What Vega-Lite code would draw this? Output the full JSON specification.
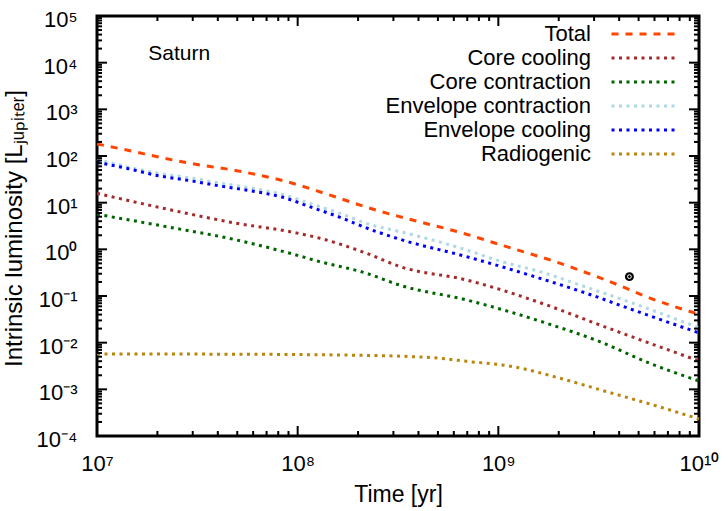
{
  "$schema": "https://vega.github.io/schema/vega-lite/v6.json",
  "width": 602,
  "height": 420,
  "autosize": "none",
  "padding": {"left": 97, "top": 16, "right": 29, "bottom": 75},
  "background": "white",
  "config": {
    "font": "Liberation Sans",
    "view": {"stroke": "black", "strokeWidth": 3},
    "axis": {"domain": false, "grid": false, "ticks": false, "labelColor": "black", "titleColor": "black", "titleFontWeight": "normal", "labelFont": "Liberation Sans", "titleFont": "Liberation Sans"}
  },
  "datasets": {
    "xmajor": [{"v": 1e7}, {"v": 1e8}, {"v": 1e9}, {"v": 1e10}],
    "xminor": [{"v": 2e7}, {"v": 3e7}, {"v": 4e7}, {"v": 5e7}, {"v": 6e7}, {"v": 7e7}, {"v": 8e7}, {"v": 9e7},
               {"v": 2e8}, {"v": 3e8}, {"v": 4e8}, {"v": 5e8}, {"v": 6e8}, {"v": 7e8}, {"v": 8e8}, {"v": 9e8},
               {"v": 2e9}, {"v": 3e9}, {"v": 4e9}, {"v": 5e9}, {"v": 6e9}, {"v": 7e9}, {"v": 8e9}, {"v": 9e9}],
    "ymajor": [{"v": 1e-4}, {"v": 1e-3}, {"v": 1e-2}, {"v": 1e-1}, {"v": 1}, {"v": 10}, {"v": 100}, {"v": 1000}, {"v": 10000}, {"v": 100000}],
    "yminor": [{"v": 2e-4}, {"v": 3e-4}, {"v": 4e-4}, {"v": 5e-4}, {"v": 6e-4}, {"v": 7e-4}, {"v": 8e-4}, {"v": 9e-4},
               {"v": 2e-3}, {"v": 3e-3}, {"v": 4e-3}, {"v": 5e-3}, {"v": 6e-3}, {"v": 7e-3}, {"v": 8e-3}, {"v": 9e-3},
               {"v": 2e-2}, {"v": 3e-2}, {"v": 4e-2}, {"v": 5e-2}, {"v": 6e-2}, {"v": 7e-2}, {"v": 8e-2}, {"v": 9e-2},
               {"v": 0.2}, {"v": 0.3}, {"v": 0.4}, {"v": 0.5}, {"v": 0.6}, {"v": 0.7}, {"v": 0.8}, {"v": 0.9},
               {"v": 2}, {"v": 3}, {"v": 4}, {"v": 5}, {"v": 6}, {"v": 7}, {"v": 8}, {"v": 9},
               {"v": 20}, {"v": 30}, {"v": 40}, {"v": 50}, {"v": 60}, {"v": 70}, {"v": 80}, {"v": 90},
               {"v": 200}, {"v": 300}, {"v": 400}, {"v": 500}, {"v": 600}, {"v": 700}, {"v": 800}, {"v": 900},
               {"v": 2000}, {"v": 3000}, {"v": 4000}, {"v": 5000}, {"v": 6000}, {"v": 7000}, {"v": 8000}, {"v": 9000},
               {"v": 20000}, {"v": 30000}, {"v": 40000}, {"v": 50000}, {"v": 60000}, {"v": 70000}, {"v": 80000}, {"v": 90000}],
    "curves": [
    {"series": "Total", "t": 1e7, "L": 180.7},
    {"series": "Total", "t": 1.459e7, "L": 130.0},
    {"series": "Total", "t": 2.061e7, "L": 93.8},
    {"series": "Total", "t": 2.904e7, "L": 69.8},
    {"series": "Total", "t": 4.966e7, "L": 48.4},
    {"series": "Total", "t": 8.472e7, "L": 29.6},
    {"series": "Total", "t": 1.393e8, "L": 15.35},
    {"series": "Total", "t": 2.382e8, "L": 7.21},
    {"series": "Total", "t": 3.357e8, "L": 4.79},
    {"series": "Total", "t": 6.683e8, "L": 2.208},
    {"series": "Total", "t": 1.099e9, "L": 1.14},
    {"series": "Total", "t": 1.879e9, "L": 0.562},
    {"series": "Total", "t": 3.597e9, "L": 0.203},
    {"series": "Total", "t": 5.916e9, "L": 0.0849},
    {"series": "Total", "t": 1e10, "L": 0.0407},

    {"series": "Core cooling", "t": 1e7, "L": 15.85},
    {"series": "Core cooling", "t": 2.223e7, "L": 7.31},
    {"series": "Core cooling", "t": 4.966e7, "L": 3.61},
    {"series": "Core cooling", "t": 9.162e7, "L": 2.39},
    {"series": "Core cooling", "t": 1.291e8, "L": 1.726},
    {"series": "Core cooling", "t": 2.208e8, "L": 0.822},
    {"series": "Core cooling", "t": 3.236e8, "L": 0.427},
    {"series": "Core cooling", "t": 6.95e8, "L": 0.22},
    {"series": "Core cooling", "t": 1.742e9, "L": 0.0641},
    {"series": "Core cooling", "t": 3.206e9, "L": 0.0239},
    {"series": "Core cooling", "t": 5.689e9, "L": 0.0097},
    {"series": "Core cooling", "t": 1e10, "L": 0.00407},

    {"series": "Core contraction", "t": 1e7, "L": 5.64},
    {"series": "Core contraction", "t": 2.223e7, "L": 3.05},
    {"series": "Core contraction", "t": 4.966e7, "L": 1.585},
    {"series": "Core contraction", "t": 9.162e7, "L": 0.822},
    {"series": "Core contraction", "t": 1.291e8, "L": 0.543},
    {"series": "Core contraction", "t": 2.208e8, "L": 0.306},
    {"series": "Core contraction", "t": 3.236e8, "L": 0.17},
    {"series": "Core contraction", "t": 6.95e8, "L": 0.0822},
    {"series": "Core contraction", "t": 1.742e9, "L": 0.026},
    {"series": "Core contraction", "t": 3.206e9, "L": 0.0105},
    {"series": "Core contraction", "t": 5.689e9, "L": 0.00361},
    {"series": "Core contraction", "t": 1e10, "L": 0.00151},

    {"series": "Envelope contraction", "t": 1e7, "L": 85.1},
    {"series": "Envelope contraction", "t": 2.018e7, "L": 42.7},
    {"series": "Envelope contraction", "t": 2.904e7, "L": 33.9},
    {"series": "Envelope contraction", "t": 4.102e7, "L": 26.3},
    {"series": "Envelope contraction", "t": 5.902e7, "L": 20.4},
    {"series": "Envelope contraction", "t": 8.318e7, "L": 15.14},
    {"series": "Envelope contraction", "t": 1.175e8, "L": 9.33},
    {"series": "Envelope contraction", "t": 1.626e8, "L": 5.89},
    {"series": "Envelope contraction", "t": 2.296e8, "L": 3.39},
    {"series": "Envelope contraction", "t": 3.236e8, "L": 2.4},
    {"series": "Envelope contraction", "t": 6.95e8, "L": 0.968},
    {"series": "Envelope contraction", "t": 1.016e9, "L": 0.562},
    {"series": "Envelope contraction", "t": 1.614e9, "L": 0.332},
    {"series": "Envelope contraction", "t": 2.553e9, "L": 0.172},
    {"series": "Envelope contraction", "t": 4.699e9, "L": 0.0697},
    {"series": "Envelope contraction", "t": 1e10, "L": 0.0209},

    {"series": "Envelope cooling", "t": 1e7, "L": 73.3},
    {"series": "Envelope cooling", "t": 1.432e7, "L": 53.5},
    {"series": "Envelope cooling", "t": 2.018e7, "L": 37.8},
    {"series": "Envelope cooling", "t": 2.904e7, "L": 29.6},
    {"series": "Envelope cooling", "t": 4.102e7, "L": 22.75},
    {"series": "Envelope cooling", "t": 5.902e7, "L": 17.78},
    {"series": "Envelope cooling", "t": 8.318e7, "L": 13.24},
    {"series": "Envelope cooling", "t": 1.175e8, "L": 7.93},
    {"series": "Envelope cooling", "t": 1.626e8, "L": 4.85},
    {"series": "Envelope cooling", "t": 2.296e8, "L": 2.685},
    {"series": "Envelope cooling", "t": 3.236e8, "L": 1.641},
    {"series": "Envelope cooling", "t": 6.95e8, "L": 0.697},
    {"series": "Envelope cooling", "t": 1.614e9, "L": 0.239},
    {"series": "Envelope cooling", "t": 2.754e9, "L": 0.114},
    {"series": "Envelope cooling", "t": 4.699e9, "L": 0.0501},
    {"series": "Envelope cooling", "t": 1e10, "L": 0.0162},

    {"series": "Radiogenic", "t": 1e7, "L": 0.00573},
    {"series": "Radiogenic", "t": 3.162e7, "L": 0.00569},
    {"series": "Radiogenic", "t": 1e8, "L": 0.00556},
    {"series": "Radiogenic", "t": 1.995e8, "L": 0.00537},
    {"series": "Radiogenic", "t": 3.236e8, "L": 0.00513},
    {"series": "Radiogenic", "t": 5.117e8, "L": 0.00462},
    {"series": "Radiogenic", "t": 6.95e8, "L": 0.00398},
    {"series": "Radiogenic", "t": 1.186e9, "L": 0.00306},
    {"series": "Radiogenic", "t": 2.028e9, "L": 0.00173},
    {"series": "Radiogenic", "t": 3.467e9, "L": 0.000891},
    {"series": "Radiogenic", "t": 5.916e9, "L": 0.000462},
    {"series": "Radiogenic", "t": 1e10, "L": 0.000232}
    ]
  },
  "layer": [
    {
      "data": {"name": "curves"},
      "mark": {"type": "line", "strokeWidth": 3, "strokeCap": "butt", "interpolate": "monotone"},
      "encoding": {
        "x": {"field": "t", "type": "quantitative",
          "scale": {"type": "log", "domain": [1e7, 1e10], "nice": false},
          "axis": {"orient": "bottom", "title": "Time [yr]", "titleFontSize": 23, "titleBaseline": "alphabetic", "titleY": 65,
            "values": [1e7, 1e8, 1e9, 1e10],
            "labelExpr": "datum.value == 1e7 ? '10⁷' : datum.value == 1e8 ? '10⁸' : datum.value == 1e9 ? '10⁹' : datum.value == 1e10 ? '10¹⁰' : ''",
            "labelFontSize": 22, "labelBaseline": "alphabetic", "labelPadding": 34, "labelOverlap": false, "labelFlush": false, "labelBound": false}},
        "y": {"field": "L", "type": "quantitative",
          "scale": {"type": "log", "domain": [1e-4, 1e5], "nice": false},
          "axis": {"orient": "left", "title": "Intrinsic luminosity [Lⱼᵤₚᵢₜₑᵣ]", "titleFontSize": 24, "titleBaseline": "alphabetic", "titleAngle": -90, "titleX": -76, "titleY": 212, "titleAlign": "center",
            "values": [1e-4, 1e-3, 1e-2, 1e-1, 1, 10, 100, 1000, 10000, 100000],
            "labelExpr": "datum.value == 1e-4 ? '10⁻⁴' : datum.value == 1e-3 ? '10⁻³' : datum.value == 1e-2 ? '10⁻²' : datum.value == 1e-1 ? '10⁻¹' : datum.value == 1 ? '10⁰' : datum.value == 10 ? '10¹' : datum.value == 100 ? '10²' : datum.value == 1000 ? '10³' : datum.value == 10000 ? '10⁴' : datum.value == 100000 ? '10⁵' : ''",
            "labelFontSize": 22, "labelBaseline": "alphabetic", "labelAlign": "right", "labelPadding": 20, "labelOffset": 10.5, "labelOverlap": false, "labelFlush": false, "labelBound": false}},
        "color": {"field": "series", "type": "nominal",
          "scale": {"domain": ["Total", "Core cooling", "Core contraction", "Envelope contraction", "Envelope cooling", "Radiogenic"],
                    "range": ["#ff4500", "#a52a2a", "#006400", "#add8e6", "#0000ff", "#b8860b"]},
          "legend": {"orient": "none", "legendX": 510, "legendY": 7, "title": null, "symbolType": "M-5,0H5", "symbolSize": 169, "symbolStrokeWidth": 3, "symbolOpacity": 1, "symbolOffset": 26, "labelAlign": "right", "labelOffset": -64, "labelFontSize": 22, "labelFont": "Liberation Sans", "labelColor": "black", "labelLimit": 0, "rowPadding": 2, "padding": 0}},
        "strokeDash": {"field": "series", "type": "nominal",
          "scale": {"domain": ["Total", "Core cooling", "Core contraction", "Envelope contraction", "Envelope cooling", "Radiogenic"],
                    "range": [[7, 7], [3, 4.5], [3, 4.5], [3, 4.5], [3, 4.5], [3, 4.5]]},
          "legend": {"orient": "none", "legendX": 510, "legendY": 7, "title": null, "symbolType": "M-5,0H5", "symbolSize": 169, "symbolStrokeWidth": 3, "symbolOpacity": 1, "symbolOffset": 26, "labelAlign": "right", "labelOffset": -64, "labelFontSize": 22, "labelFont": "Liberation Sans", "labelColor": "black", "labelLimit": 0, "rowPadding": 2, "padding": 0}}
      }
    },
    {
      "data": {"name": "xmajor"},
      "mark": {"type": "point", "shape": "M0,0V-1", "filled": false, "strokeWidth": 2, "color": "#000000", "opacity": 1, "size": 400},
      "encoding": {
        "x": {"field": "v", "type": "quantitative", "scale": {"type": "log", "domain": [1e7, 1e10], "nice": false}},
        "y": {"datum": 1e-4, "type": "quantitative", "scale": {"type": "log", "domain": [1e-4, 1e5], "nice": false}}
      }
    },
    {
      "data": {"name": "xmajor"},
      "mark": {"type": "point", "shape": "M0,0V1", "filled": false, "strokeWidth": 2, "color": "#000000", "opacity": 1, "size": 400},
      "encoding": {
        "x": {"field": "v", "type": "quantitative", "scale": {"type": "log", "domain": [1e7, 1e10], "nice": false}},
        "y": {"datum": 1e5, "type": "quantitative", "scale": {"type": "log", "domain": [1e-4, 1e5], "nice": false}}
      }
    },
    {
      "data": {"name": "xminor"},
      "mark": {"type": "point", "shape": "M0,0V-1", "filled": false, "strokeWidth": 2, "color": "#000000", "opacity": 1, "size": 100},
      "encoding": {
        "x": {"field": "v", "type": "quantitative", "scale": {"type": "log", "domain": [1e7, 1e10], "nice": false}},
        "y": {"datum": 1e-4, "type": "quantitative", "scale": {"type": "log", "domain": [1e-4, 1e5], "nice": false}}
      }
    },
    {
      "data": {"name": "xminor"},
      "mark": {"type": "point", "shape": "M0,0V1", "filled": false, "strokeWidth": 2, "color": "#000000", "opacity": 1, "size": 100},
      "encoding": {
        "x": {"field": "v", "type": "quantitative", "scale": {"type": "log", "domain": [1e7, 1e10], "nice": false}},
        "y": {"datum": 1e5, "type": "quantitative", "scale": {"type": "log", "domain": [1e-4, 1e5], "nice": false}}
      }
    },
    {
      "data": {"name": "ymajor"},
      "mark": {"type": "point", "shape": "M0,0H1", "filled": false, "strokeWidth": 2, "color": "#000000", "opacity": 1, "size": 400},
      "encoding": {
        "y": {"field": "v", "type": "quantitative", "scale": {"type": "log", "domain": [1e-4, 1e5], "nice": false}},
        "x": {"datum": 1e7, "type": "quantitative", "scale": {"type": "log", "domain": [1e7, 1e10], "nice": false}}
      }
    },
    {
      "data": {"name": "ymajor"},
      "mark": {"type": "point", "shape": "M0,0H-1", "filled": false, "strokeWidth": 2, "color": "#000000", "opacity": 1, "size": 400},
      "encoding": {
        "y": {"field": "v", "type": "quantitative", "scale": {"type": "log", "domain": [1e-4, 1e5], "nice": false}},
        "x": {"datum": 1e10, "type": "quantitative", "scale": {"type": "log", "domain": [1e7, 1e10], "nice": false}}
      }
    },
    {
      "data": {"name": "yminor"},
      "mark": {"type": "point", "shape": "M0,0H1", "filled": false, "strokeWidth": 2, "color": "#000000", "opacity": 1, "size": 100},
      "encoding": {
        "y": {"field": "v", "type": "quantitative", "scale": {"type": "log", "domain": [1e-4, 1e5], "nice": false}},
        "x": {"datum": 1e7, "type": "quantitative", "scale": {"type": "log", "domain": [1e7, 1e10], "nice": false}}
      }
    },
    {
      "data": {"name": "yminor"},
      "mark": {"type": "point", "shape": "M0,0H-1", "filled": false, "strokeWidth": 2, "color": "#000000", "opacity": 1, "size": 100},
      "encoding": {
        "y": {"field": "v", "type": "quantitative", "scale": {"type": "log", "domain": [1e-4, 1e5], "nice": false}},
        "x": {"datum": 1e10, "type": "quantitative", "scale": {"type": "log", "domain": [1e7, 1e10], "nice": false}}
      }
    },
    {
      "data": {"values": [{"t": 4.5e9, "L": 0.26}]},
      "mark": {"type": "point", "shape": "circle", "filled": true, "color": "black", "size": 80, "opacity": 1},
      "encoding": {
        "x": {"field": "t", "type": "quantitative", "scale": {"type": "log", "domain": [1e7, 1e10], "nice": false}},
        "y": {"field": "L", "type": "quantitative", "scale": {"type": "log", "domain": [1e-4, 1e5], "nice": false}}
      }
    },
    {
      "data": {"values": [{"t": 4.5e9, "L": 0.26}]},
      "mark": {"type": "point", "shape": "circle", "filled": false, "stroke": "white", "strokeWidth": 1, "size": 14, "opacity": 1},
      "encoding": {
        "x": {"field": "t", "type": "quantitative", "scale": {"type": "log", "domain": [1e7, 1e10], "nice": false}},
        "y": {"field": "L", "type": "quantitative", "scale": {"type": "log", "domain": [1e-4, 1e5], "nice": false}}
      }
    },
    {
      "data": {"values": [{"label": "Saturn"}]},
      "mark": {"type": "text", "align": "left", "baseline": "alphabetic", "fontSize": 21, "font": "Liberation Sans", "color": "black"},
      "encoding": {
        "x": {"datum": 1.8e7, "type": "quantitative", "scale": {"type": "log", "domain": [1e7, 1e10], "nice": false}},
        "y": {"datum": 11400, "type": "quantitative", "scale": {"type": "log", "domain": [1e-4, 1e5], "nice": false}},
        "text": {"field": "label"}
      }
    }
  ]
}
